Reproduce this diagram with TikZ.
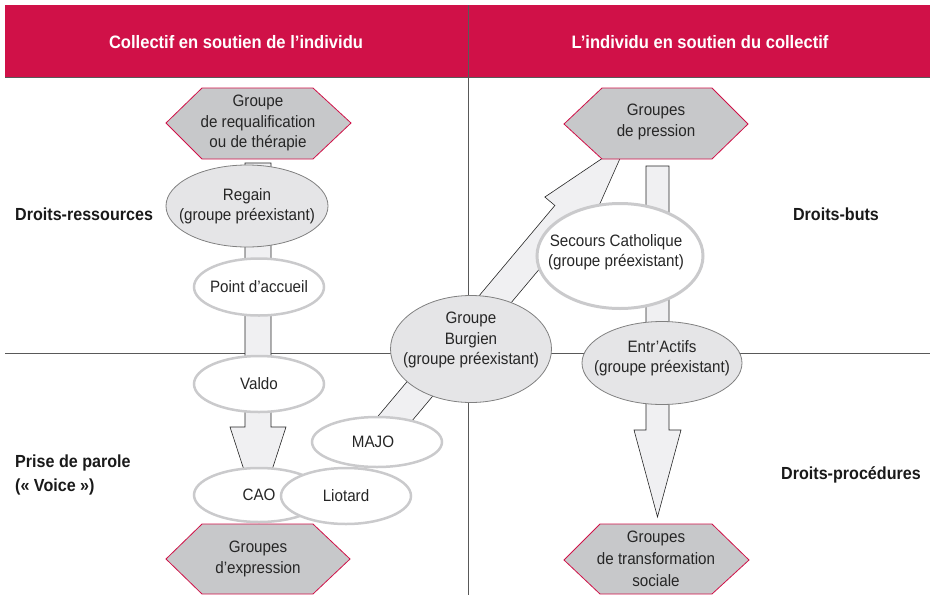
\documentclass[tikz,border=0pt]{standalone}
\usepackage{fontspec}
\setmainfont{Liberation Sans}[FakeStretch=0.92]
\usetikzlibrary{shapes.geometric}
\definecolor{bandred}{RGB}{208,17,72}
\definecolor{hexgray}{RGB}{199,200,202}
\definecolor{ellgray}{RGB}{229,229,231}
\definecolor{arrowfill}{RGB}{240,240,242}
\definecolor{rimgray}{RGB}{202,202,204}
\tikzset{
  hexa/.style={fill=hexgray, draw=bandred, line width=0.8pt, line join=miter},
  greyell/.style={ellipse, fill=ellgray, draw=black!50, line width=0.8pt, inner sep=0pt},
  whiteell/.style={ellipse, fill=white, draw=rimgray, line width=2.5pt, inner sep=0pt},
  fatarrow/.style={fill=arrowfill, draw=black!85, line width=0.6pt, line join=miter},
  divider/.style={draw=black!65, line width=0.9pt},
  txt/.style={align=center, inner sep=0pt, font=\fontsize{16.5}{20.5}\selectfont, text=black!85},
  axislabel/.style={align=left, inner sep=0pt, font=\bfseries\fontsize{17.5}{24}\selectfont, text=black!90},
  headlabel/.style={inner sep=0pt, text=white, font=\bfseries\fontsize{18}{20}\selectfont}
}
\begin{document}
\begin{tikzpicture}[x=1pt,y=-1pt]
  \useasboundingbox (0,0) rectangle (930,595);

  \fill[bandred] (5,5) rectangle (930,77);
  \draw[divider] (5,77) -- (930,77);
  \draw[divider] (5,353) -- (930,353);
  \draw[divider] (468,5) -- (468,595);

  \node[headlabel] (leftcol) at (236,42) {Collectif en soutien de l’individu};
  \node[headlabel] (rightcol) at (700,42) {L’individu en soutien du collectif};

  \node[axislabel, anchor=west] (ressources) at (15,214) {Droits-ressources};
  \node[axislabel, anchor=west] (parole) at (15,475) {Prise de parole\\(«~Voice~»)};
  \node[axislabel] (buts) at (836,214) {Droits-buts};
  \node[axislabel] (procedures) at (851,475) {Droits-procédures};

  % arrows
  \draw[fatarrow] (245,163) -- (245,427) -- (230,427) -- (258,513) -- (286,427) -- (271,427) -- (271,163) -- cycle;
  \draw[fatarrow] (646,166) -- (646,430) -- (634,430) -- (657.5,517) -- (681,430) -- (669,430) -- (669,166) -- cycle;
  \begin{scope}[shift={(377,440)}, rotate=50]
    \draw[fatarrow] (0,-14.5) -- (294,-14.5) -- (294,-27.6) -- (390,0) -- (294,27.6) -- (294,14.5) -- (0,14.5) -- cycle;
  \end{scope}

  % left column
  \node[greyell, minimum width=162pt, minimum height=82pt] (regain) at (247,206) {};
  \node[txt] (regaintxt) at (regain) {Regain\\(groupe préexistant)};
  \node[whiteell, minimum width=130pt, minimum height=57pt] (accueil) at (259,287) {};
  \node[txt] (accueiltxt) at (accueil) {Point d’accueil};
  \node[whiteell, minimum width=130pt, minimum height=56pt] (valdo) at (259,384) {};
  \node[txt] (valdotxt) at (valdo) {Valdo};
  \node[whiteell, minimum width=130pt, minimum height=50pt] (majo) at (377,442) {};
  \node[txt] (majotxt) at ([xshift=-4pt]majo) {MAJO};
  \node[whiteell, minimum width=130pt, minimum height=54pt] (cao) at (259,495) {};
  \node[txt] (caotxt) at (cao) {CAO};
  \node[whiteell, minimum width=130pt, minimum height=56pt] (liotard) at (346,496) {};
  \node[txt] (liotardtxt) at (liotard) {Liotard};

  % middle and right column
  \node[greyell, minimum width=161pt, minimum height=107pt] (burgien) at (471,349) {};
  \node[txt] (burgientxt) at ([yshift=9pt]burgien) {Groupe\\Burgien\\(groupe préexistant)};
  \node[whiteell, line width=3pt, minimum width=166pt, minimum height=105pt] (secours) at (620,256) {};
  \node[txt] (secourstxt) at ([xshift=-4pt,yshift=4pt]secours) {Secours Catholique\\(groupe préexistant)};
  \node[greyell, minimum width=160pt, minimum height=83pt] (entractifs) at (662,363) {};
  \node[txt] (entractifstxt) at ([yshift=5pt]entractifs) {Entr’Actifs\\(groupe préexistant)};

  % hexagons
  \draw[hexa] (166,123) -- (202,88) -- (313,88) -- (351,123) -- (313,159) -- (202,159) -- cycle;
  \node[txt] (requal) at (258,123) {Groupe\\de requalification\\ou de thérapie};
  \draw[hexa] (166,559) -- (202,524) -- (313,524) -- (350,559) -- (313,594) -- (202,594) -- cycle;
  \node[txt] (expression) at (258,559) {Groupes\\d’expression};
  \draw[hexa] (564,124) -- (602,88) -- (712,88) -- (748,124) -- (712,159) -- (602,159) -- cycle;
  \node[txt] (pression) at (656,122) {Groupes\\de pression};
  \draw[hexa] (564,560) -- (600,524) -- (712,524) -- (749,560) -- (712,594) -- (600,594) -- cycle;
  \node[txt, font=\fontsize{16.5}{22}\selectfont] (transformation) at (656,559) {Groupes\\de transformation\\sociale};
\end{tikzpicture}
\end{document}
